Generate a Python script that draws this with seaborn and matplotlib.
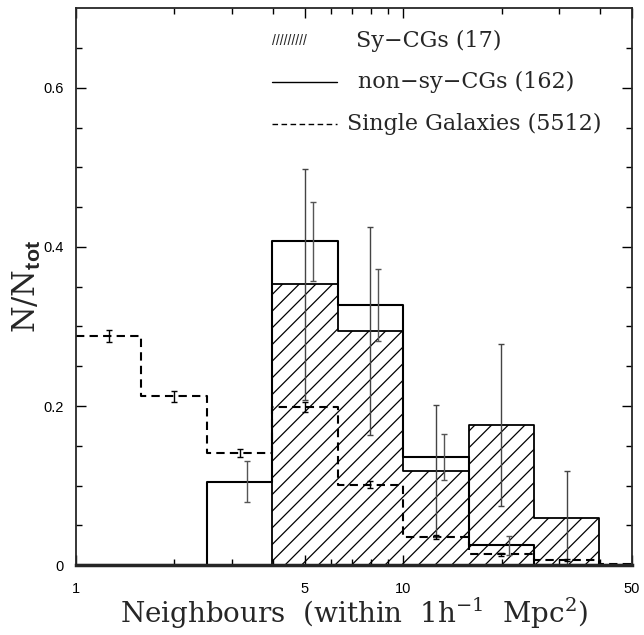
import numpy as np
import matplotlib
matplotlib.use("Agg")
import matplotlib.pyplot as plt
from matplotlib.ticker import FixedLocator, FixedFormatter, NullFormatter
import seaborn as sns

# bin edges (0.2 dex wide) and bin centres
bin_edges = [1.0, 1.585, 2.512, 3.981, 6.310, 10.0, 15.85, 25.12, 39.81, 63.10]
bin_centers = [1.259, 1.995, 3.162, 5.012, 7.943, 12.59, 19.95, 31.62, 50.12]

# fractions N/Ntot
sy_frac = [0.0, 0.0, 0.0, 0.353, 0.294, 0.118, 0.176, 0.059, 0.0]
nonsy_frac = [0.0, 0.0, 0.105, 0.407, 0.327, 0.136, 0.025, 0.0, 0.0]
single_frac = [0.288, 0.212, 0.141, 0.199, 0.101, 0.035, 0.0135, 0.007, 0.001]

# error bars (only bins with data)
sy_err_x = [5.012, 7.943, 12.59, 19.95, 31.62]
sy_err_y = [0.353, 0.294, 0.118, 0.176, 0.059]
sy_err = [0.145, 0.131, 0.083, 0.102, 0.059]

nonsy_err_x = [3.162, 5.012, 7.943, 12.59, 19.95]
nonsy_err_y = [0.105, 0.407, 0.327, 0.136, 0.025]
nonsy_err = [0.0255, 0.050, 0.045, 0.029, 0.012]

single_err_x = [1.259, 1.995, 3.162, 5.012, 7.943, 12.59, 19.95, 31.62]
single_err_y = [0.288, 0.212, 0.141, 0.199, 0.101, 0.035, 0.0135, 0.007]
single_err = [0.0075, 0.0065, 0.0052, 0.0062, 0.0045, 0.0027, 0.0018, 0.0012]

legend_labels = ["Sy\u2212CGs (17)", "non\u2212sy\u2212CGs (162)", "Single Galaxies (5512)"]

sns.set_style("ticks")
plt.rcParams["font.family"] = ["Liberation Sans", "DejaVu Sans"]
plt.rcParams["mathtext.fontset"] = "custom"
plt.rcParams["mathtext.rm"] = "DejaVu Serif"
plt.rcParams["mathtext.it"] = "DejaVu Serif"
plt.rcParams["mathtext.bf"] = "Liberation Sans:bold"
plt.rcParams["hatch.linewidth"] = 0.9

fig = plt.figure(figsize=(6.44, 6.35), dpi=100)
ax = fig.add_axes([0.118, 0.110, 0.863, 0.877])

# hatched Sy-CGs
sns.histplot(x=bin_centers, weights=sy_frac, bins=bin_edges, element="step",
             fill=True, color="black", facecolor=(1, 1, 1, 0), edgecolor="black",
             hatch="//", linewidth=1.3, ax=ax)
# non-sy-CGs
sns.histplot(x=bin_centers, weights=nonsy_frac, bins=bin_edges, element="step",
             fill=False, color="black", linewidth=1.5, ax=ax)
# single galaxies
sns.histplot(x=bin_centers, weights=single_frac, bins=bin_edges, element="step",
             fill=False, color="black", linewidth=1.5, linestyle=(0, (4, 2.5)), ax=ax)

ax.errorbar(sy_err_x, sy_err_y, yerr=sy_err, fmt="none", ecolor="#444444",
            elinewidth=1.0, capsize=2, capthick=1.0)
ax.errorbar(np.array(nonsy_err_x) * 1.056, nonsy_err_y, yerr=nonsy_err, fmt="none",
            ecolor="#555555", elinewidth=1.0, capsize=2, capthick=1.0)
ax.errorbar(single_err_x, single_err_y, yerr=single_err, fmt="none", ecolor="black",
            elinewidth=1.0, capsize=2.5, capthick=1.0)

ax.set_xscale("log")
ax.set_xlim(1, 50)
ax.set_ylim(0, 0.7)

ax.xaxis.set_major_locator(FixedLocator([1, 5, 10, 50]))
ax.xaxis.set_major_formatter(FixedFormatter(["1", "5", "10", "50"]))
ax.xaxis.set_minor_locator(FixedLocator([2, 3, 4, 6, 7, 8, 9, 20, 30, 40]))
ax.xaxis.set_minor_formatter(NullFormatter())
ax.yaxis.set_major_locator(FixedLocator([0, 0.2, 0.4, 0.6]))
ax.yaxis.set_major_formatter(FixedFormatter(["0", "0.2", "0.4", "0.6"]))
ax.yaxis.set_minor_locator(FixedLocator([0.05, 0.1, 0.15, 0.25, 0.3, 0.35,
                                         0.45, 0.5, 0.55, 0.65]))

ax.tick_params(which="both", direction="in", top=True, right=True, width=1.0,
               labelsize=10.5, colors="black")
ax.tick_params(axis="x", which="major", length=7, pad=12)
ax.tick_params(axis="y", which="major", length=7, pad=9)
ax.tick_params(which="minor", length=4)

for side in ["top", "left", "right"]:
    ax.spines[side].set_linewidth(1.3)
    ax.spines[side].set_visible(True)
ax.spines["bottom"].set_linewidth(2.5)

ax.set_xlabel(r"$\mathrm{Neighbours\ \ (within\ \ 1h^{-1}\ \ Mpc^{2})}$", fontsize=20, labelpad=0)
ax.set_ylabel(r"$\mathrm{N/N}_{\mathbf{tot}}$", fontsize=22, labelpad=0)

# hand-made legend
tr = ax.transAxes
ax.text(0.353, 0.9405, "/////////", transform=tr, fontsize=10, va="center", ha="left")
ax.text(0.503, 0.9405, legend_labels[0], transform=tr, fontsize=16,
        family="DejaVu Serif", va="center", ha="left")
ax.plot([0.353, 0.47], [0.867, 0.867], transform=tr, color="black", lw=1.0)
ax.text(0.507, 0.867, legend_labels[1], transform=tr, fontsize=16,
        family="DejaVu Serif", va="center", ha="left")
ax.plot([0.353, 0.47], [0.793, 0.793], transform=tr, color="black", lw=1.0,
        linestyle=(0, (4, 2.5)))
ax.text(0.487, 0.793, legend_labels[2], transform=tr, fontsize=16,
        family="DejaVu Serif", va="center", ha="left")

fig.savefig("out.png", dpi=100, facecolor="white")
